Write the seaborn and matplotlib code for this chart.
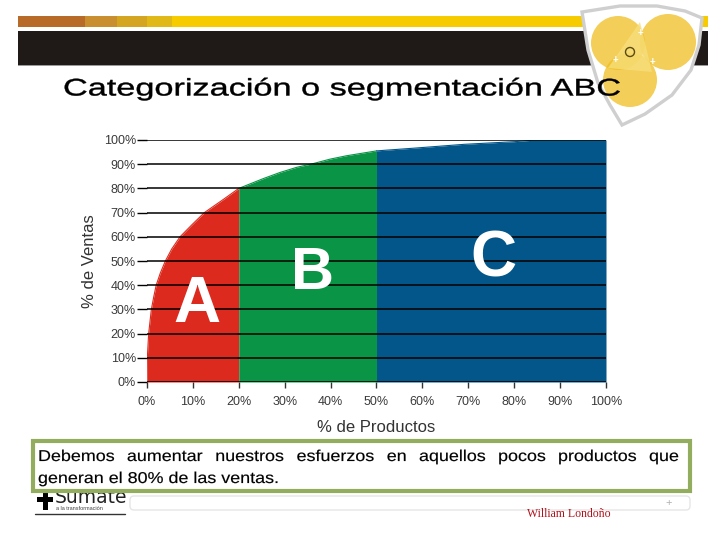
import matplotlib
matplotlib.use("Agg")
import matplotlib.pyplot as plt
import matplotlib.patches as mpatches
from matplotlib import font_manager
from matplotlib.patheffects import AbstractPathEffect
from matplotlib.transforms import Affine2D
import numpy as np
import pandas as pd
import seaborn as sns

# ---------------- data ----------------
productos = [0, 0.07, 0.36, 0.95, 1.45, 2.0, 2.9, 4.0, 5.4, 7.2, 9.8, 12.5, 16.3, 20,
             25.4, 29, 32.6, 36.3, 39.9, 43.5, 50,
             58, 69, 80, 84, 90, 100]
ventas = [0, 10, 20, 30, 35, 40, 45, 50, 55, 60, 65, 70, 75, 80,
          84.1, 86.6, 88.7, 90.3, 92.1, 93.5, 95.5,
          96.6, 98.2, 99.3, 99.9, 100, 100]
limites = [0, 20, 50, 100]
clases = ["A", "B", "C"]
colores = ["#DC2B1E", "#0A9445", "#02568A"]
x_ticks = list(range(0, 101, 10))
x_tick_labels = [f"{v}%" for v in x_ticks]
y_ticks = list(range(0, 101, 10))
y_tick_labels = [f"{v}%" for v in y_ticks]
letra_pos_x = [10.9, 36.0, 75.4]
letra_pos_y = [32.0, 45.0, 50.8]

titulo = "Categorización o segmentación ABC"
mensaje_l1 = "Debemos aumentar nuestros esfuerzos en aquellos pocos productos que"
mensaje_l2 = "generan el 80% de las ventas."

sns.set_theme(style="white")
plt.rcParams["font.family"] = ["Liberation Sans", "DejaVu Sans"]

W, H = 720, 540
DPI = 100
fig = plt.figure(figsize=(7.2, 5.4), dpi=DPI)
fig.patch.set_facecolor("white")
renderer = fig.canvas.get_renderer()


def fx(px):
    return px / W


def fy(py):
    return 1 - py / H


def text_w(s, family, size_pt):
    prop = font_manager.FontProperties(family=family, size=size_pt)
    w, h, d = renderer.get_text_width_height_descent(s, prop, ismath=False)
    return w


class StretchX(AbstractPathEffect):
    """Stretch glyphs horizontally about a display x position (slide look)."""

    def __init__(self, sx, x0, stroke=0.0):
        super().__init__()
        self.sx = sx
        self.x0 = x0
        self.stroke = stroke

    def draw_path(self, renderer_, gc, tpath, affine, rgbFace=None):
        aff = affine + Affine2D().translate(-self.x0, 0).scale(self.sx, 1).translate(self.x0, 0)
        if self.stroke > 0 and rgbFace is not None:
            gc0 = renderer_.new_gc()
            gc0.copy_properties(gc)
            gc0.set_linewidth(self.stroke)
            gc0.set_foreground(rgbFace)
            renderer_.draw_path(gc0, tpath, aff, rgbFace)
            gc0.restore()
        else:
            renderer_.draw_path(gc, tpath, aff, rgbFace)


def stretched(ax_, x, y, s, width, family, size, stroke=0.0, **kw):
    nat = text_w(s, family, size)
    sx = width / nat
    t = ax_.text(x, y, s, family=family, fontsize=size, ha="left", **kw)
    t.set_path_effects([StretchX(sx, x * DPI / 100.0, stroke)])
    return t


# ---------------- header decoration ----------------
deco = fig.add_axes([0, 0, 1, 1], zorder=0)
deco.set_xlim(0, W)
deco.set_ylim(H, 0)
deco.axis("off")
segs = [(18, 85, "#B86A28"), (85, 117, "#C98E30"), (117, 147, "#D4A520"),
        (147, 172, "#E0B818"), (172, 708, "#F6CC00")]
for x0, x1, c in segs:
    deco.add_patch(mpatches.Rectangle((x0, 15.5), x1 - x0, 11.5, color=c, lw=0))
deco.add_patch(mpatches.Rectangle((18, 31), 690, 34, color="#1F1A17", lw=0))
deco.add_patch(mpatches.Rectangle((18, 65), 690, 1.2, color="#9A9A9A", lw=0))

# shield logo
shield = [(582, 12), (620, 6), (657, 6), (685, 11), (702, 18), (699, 45),
          (691, 70), (672, 95), (645, 114), (622, 125), (610, 105),
          (598, 83), (588, 50)]
deco.add_patch(mpatches.Polygon(shield, closed=True, fc="white", ec="#CFCFCF",
                                lw=2.4, zorder=2))
for (cx, cy, r) in [(618, 43, 27), (668, 42, 28), (630, 80, 27)]:
    deco.add_patch(mpatches.Circle((cx, cy), r, fc="#F0BE22", ec="none",
                                   alpha=0.75, zorder=3))
deco.add_patch(mpatches.Polygon([(640, 22), (608, 68), (652, 72)], closed=True,
                                fc="#F7DE7A", ec="none", alpha=0.8, zorder=3))
for (cx, cy) in [(640, 33), (615, 60), (652, 62)]:
    deco.text(cx, cy, "+", color="white", fontsize=7, ha="center", va="center",
              zorder=4, fontweight="bold")
deco.add_patch(mpatches.Circle((630, 52), 4.5, fc="none", ec="#5A4A10", lw=1, zorder=4))

# title (horizontally stretched like the slide)
stretched(deco, 63, 95.5, titulo, 557, "Liberation Sans", 17.3, stroke=0.3,
          color="black", va="baseline", zorder=5)

# ---------------- main chart ----------------
ax = fig.add_axes([fx(147), fy(382), fx(606) - fx(147), (382 - 140) / H], zorder=2)
df = pd.DataFrame({"productos": productos, "ventas": ventas})

for i, cl in enumerate(clases):
    lo, hi = limites[i], limites[i + 1]
    seg = df[(df["productos"] >= lo) & (df["productos"] <= hi)]
    ax.fill_between(seg["productos"], 0, seg["ventas"], color=colores[i], lw=0,
                    zorder=1)
    sns.lineplot(x=seg["productos"], y=seg["ventas"], ax=ax, color=colores[i],
                 lw=0.8, zorder=1.2, legend=False)
    ax.text(letra_pos_x[i], letra_pos_y[i], cl, color="white",
            fontsize=[47, 43, 46][i], fontweight="bold", ha="center",
            va="center", zorder=5)

ax.set_xlim(0, 100)
ax.set_ylim(0, 100)
ax.set_xticks(x_ticks)
ax.set_xticklabels(x_tick_labels)
ax.set_yticks(y_ticks)
ax.set_yticklabels(y_tick_labels)
ax.grid(axis="y", color="black", lw=1.1)
ax.grid(axis="x", visible=False)
ax.set_axisbelow(False)
for s in ax.spines.values():
    s.set_visible(False)
ax.tick_params(axis="y", left=True, length=7, width=1, color="black",
               labelsize=9, labelcolor="#3A3A3A", pad=1)
ax.tick_params(axis="x", bottom=True, length=4, width=1, color="#333333",
               labelsize=9, labelcolor="#3A3A3A", pad=6)
ax.set_xlabel("% de Productos", fontsize=12, color="#333333", labelpad=9)
ax.set_ylabel("% de Ventas", fontsize=12, color="#333333", labelpad=5)
ax.patch.set_alpha(0)

# ---------------- bottom message box ----------------
deco2 = fig.add_axes([0, 0, 1, 1], zorder=3)
deco2.set_xlim(0, W)
deco2.set_ylim(H, 0)
deco2.axis("off")

# footer
deco2.add_patch(mpatches.FancyBboxPatch((130, 496), 560, 14,
                boxstyle="round,pad=0,rounding_size=4", fc="none",
                ec="#E6E6E6", lw=1))
deco2.text(669, 503, "+", fontsize=8, color="#B0B0B0", ha="center", va="center")
deco2.add_patch(mpatches.Rectangle((37, 497), 16, 5, color="black", lw=0))
deco2.add_patch(mpatches.Rectangle((42.5, 490), 5, 20, color="black", lw=0))
deco2.text(55, 503, "Sumate", fontsize=13.5, color="#222222", ha="left",
           va="baseline", family="DejaVu Sans", zorder=1)
deco2.text(56, 509, "a la transformación", fontsize=4, color="#444444",
           ha="left", va="center")
deco2.plot([35, 125], [513.5, 513.5], color="#333333", lw=1)
deco2.text(569, 514, "William Londoño", fontsize=8.5, color="#B0121C",
           family=["Liberation Serif", "DejaVu Serif"], ha="center", va="center")

deco2.add_patch(mpatches.Rectangle((33, 441), 657, 50, fc="white",
                                   ec="#93AD5E", lw=3, zorder=4))

msg_family = "Liberation Sans"
msg_size = 11.3
l2_width = 242
stretch = l2_width / text_w(mensaje_l2, msg_family, msg_size)
words = mensaje_l1.split(" ")
widths = [text_w(w, msg_family, msg_size) * stretch for w in words]
left, right = 38, 679
gap = (right - left - sum(widths)) / (len(words) - 1)
xpos = left
for w, wd in zip(words, widths):
    stretched(deco2, xpos, 461, w, wd, msg_family, msg_size, stroke=0.12,
              color="black", va="baseline", zorder=5)
    xpos += wd + gap
stretched(deco2, left, 483, mensaje_l2, l2_width, msg_family, msg_size,
          stroke=0.12, color="black", va="baseline", zorder=5)

fig.savefig("out.png", dpi=DPI, facecolor="white")
